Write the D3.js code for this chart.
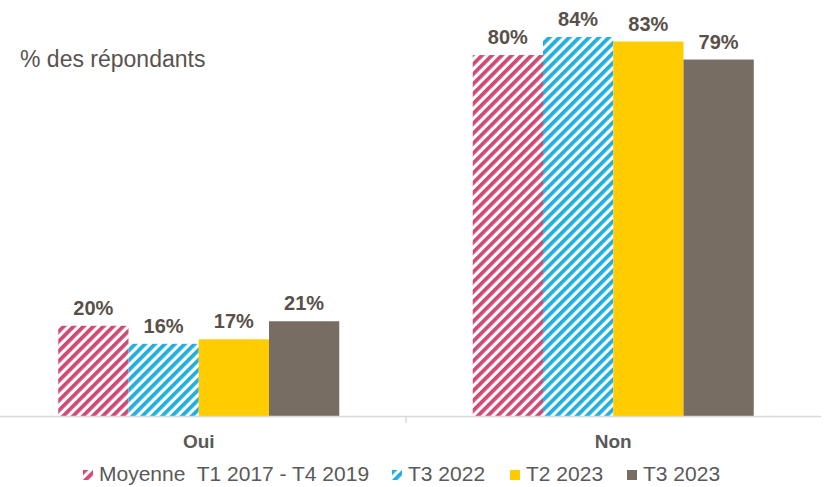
<!DOCTYPE html>
<html>
<head>
<meta charset="utf-8">
<script src="https://cdn.jsdelivr.net/npm/d3@7"></script>
<style>
  body { margin: 0; background: #fff; }
  svg { display: block; font-family: "Liberation Sans", Arial, sans-serif; }
</style>
</head>
<body>
<svg width="825" height="487"></svg>
<script>
const categories = ["Oui", "Non"];
const seriesNames = ["Moyenne  T1 2017 - T4 2019", "T3 2022", "T2 2023", "T3 2023"];
const moyenne = [20, 80];
const t3_2022 = [16, 84];
const t2_2023 = [17, 83];
const t3_2023 = [21, 79];
const seriesValues = [moyenne, t3_2022, t2_2023, t3_2023];
const colors = ["#cf4a72", "#21aee0", "#ffcc00", "#786d62"];
const hatched = [true, true, false, false];

let svg = d3.select("svg");

// hatch patterns
let defs = svg.append("defs");
colors.forEach(function (c, i) {
    if (!hatched[i]) return;
    let p = defs.append("pattern")
        .attr("id", "hatch" + i)
        .attr("patternUnits", "userSpaceOnUse")
        .attr("width", 7).attr("height", 7)
        .attr("patternTransform", "rotate(45)");
    p.append("rect").attr("width", 7).attr("height", 7).attr("fill", "#fff");
    p.append("rect").attr("width", 3.8).attr("height", 7).attr("fill", c);
});
function fillOf(i) { return hatched[i] ? "url(#hatch" + i + ")" : colors[i]; }

const x0 = d3.scaleBand().domain(categories).range([-8.5, 820.5]);
const x1 = d3.scaleBand().domain(d3.range(seriesNames.length))
    .range([0, x0.bandwidth()]).paddingInner(0).paddingOuter(0.95);
const y = d3.scaleLinear().domain([0, 84]).range([416, 37]);

// bars
let groups = svg.append("g").selectAll("g")
    .data(categories)
    .enter().append("g")
    .attr("transform", function (d) { return "translate(" + x0(d) + ",0)"; });

function cells(d, ci) {
    return seriesValues.map(function (s, si) { return { si: si, v: s[ci] }; });
}

groups.selectAll("rect")
    .data(cells)
    .enter().append("rect")
    .attr("x", function (d) { return x1(d.si); })
    .attr("width", x1.bandwidth())
    .attr("y", function (d) { return y(d.v); })
    .attr("height", function (d) { return y(0) - y(d.v); })
    .attr("fill", function (d) { return fillOf(d.si); });

groups.selectAll("text")
    .data(cells)
    .enter().append("text")
    .attr("x", function (d) { return x1(d.si) + x1.bandwidth() / 2; })
    .attr("y", function (d) { return y(d.v) - 11; })
    .attr("text-anchor", "middle")
    .attr("font-size", 20).attr("font-weight", "bold")
    .attr("fill", "#595049")
    .text(function (d) { return d.v + "%"; });

// axis
let axis = svg.append("g").attr("transform", "translate(0,416)")
    .call(d3.axisBottom(x0).tickSize(0).tickPadding(19));
axis.select(".domain").attr("stroke", "#d9d9d9").attr("stroke-width", 1.5);
axis.selectAll(".tick text")
    .attr("font-size", 19).attr("font-weight", "bold").attr("fill", "#595959")
    .attr("font-family", "Liberation Sans, Arial, sans-serif");
axis.append("line")
    .attr("x1", x0("Non")).attr("x2", x0("Non"))
    .attr("y1", 0).attr("y2", 7)
    .attr("stroke", "#d9d9d9").attr("stroke-width", 1.5);

// y title
svg.append("text")
    .attr("x", 20).attr("y", 67)
    .attr("font-size", 23).attr("fill", "#595350")
    .text("% des répondants");

// legend
const legendX = [83, 392, 510, 627];
let legend = svg.append("g").selectAll("g")
    .data(seriesNames)
    .enter().append("g")
    .attr("transform", function (d, i) { return "translate(" + legendX[i] + ",470)"; });
legend.append("rect")
    .attr("width", 10).attr("height", 10)
    .attr("fill", function (d, i) { return fillOf(i); });
legend.append("text")
    .attr("x", 16).attr("y", 11)
    .attr("font-size", 21).attr("fill", "#595959")
    .style("white-space", "pre")
    .text(function (d) { return d; });
</script>
</body>
</html>
